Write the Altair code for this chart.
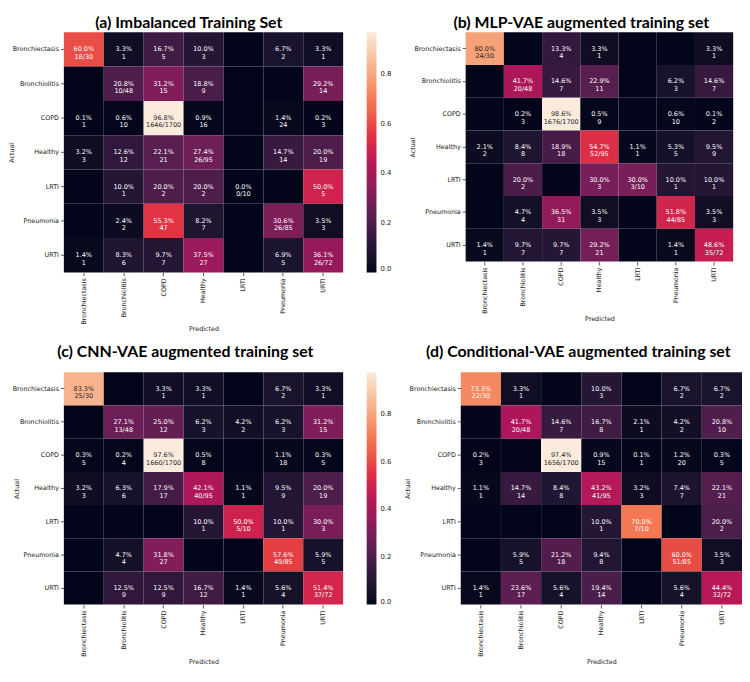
import altair as alt
import pandas as pd

classes = ["Bronchiectasis", "Bronchiolitis", "COPD", "Healthy", "LRTI", "Pneumonia", "URTI"]
totals = [30, 48, 1700, 95, 10, 85, 72]

counts_a = [
    [18, 1, 5, 3, 0, 2, 1],
    [0, 10, 15, 9, 0, 0, 14],
    [1, 10, 1646, 16, 0, 24, 3],
    [3, 12, 21, 26, 0, 14, 19],
    [0, 1, 2, 2, 0, 0, 5],
    [0, 2, 47, 7, 0, 26, 3],
    [1, 6, 7, 27, 0, 5, 26],
]
counts_b = [
    [24, 0, 4, 1, 0, 0, 1],
    [0, 20, 7, 11, 0, 3, 7],
    [0, 3, 1676, 9, 0, 10, 2],
    [2, 8, 18, 52, 1, 5, 9],
    [0, 2, 0, 3, 3, 1, 1],
    [0, 4, 31, 3, 0, 44, 3],
    [1, 7, 7, 21, 0, 1, 35],
]
counts_c = [
    [25, 0, 1, 1, 0, 2, 1],
    [0, 13, 12, 3, 2, 3, 15],
    [5, 4, 1660, 8, 0, 18, 5],
    [3, 6, 17, 40, 1, 9, 19],
    [0, 0, 0, 1, 5, 1, 3],
    [0, 4, 27, 0, 0, 49, 5],
    [0, 9, 9, 12, 1, 4, 37],
]
counts_d = [
    [22, 1, 0, 3, 0, 2, 2],
    [0, 20, 7, 8, 1, 2, 10],
    [3, 0, 1656, 15, 1, 20, 5],
    [1, 14, 8, 41, 3, 7, 21],
    [0, 0, 0, 1, 7, 0, 2],
    [0, 5, 18, 8, 0, 51, 3],
    [1, 17, 4, 14, 0, 4, 32],
]

titles = [
    "(a) Imbalanced Training Set",
    "(b) MLP-VAE augmented training set",
    "(c) CNN-VAE augmented training set",
    "(d) Conditional-VAE augmented training set",
]
legend_ticks = [0.0, 0.2, 0.4, 0.6, 0.8]

rocket = ["#03051a", "#35193e", "#701f57", "#ad1759",
          "#e13342", "#f37651", "#f6b48f", "#faebdd"]


def hex_rgb(h):
    return [int(h[i:i + 2], 16) / 255 for i in (1, 3, 5)]


def rocket_at(t):
    t = min(max(t, 0.0), 1.0) * (len(rocket) - 1)
    i = min(int(t), len(rocket) - 2)
    f = t - i
    a, b = hex_rgb(rocket[i]), hex_rgb(rocket[i + 1])
    return [a[k] + (b[k] - a[k]) * f for k in range(3)]


def luminance(rgb):
    lin = [c / 12.92 if c <= 0.03928 else ((c + 0.055) / 1.055) ** 2.4 for c in rgb]
    return 0.2126 * lin[0] + 0.7152 * lin[1] + 0.0722 * lin[2]


def make_df(counts):
    rows = []
    for i, act in enumerate(classes):
        for j, pred in enumerate(classes):
            c = counts[i][j]
            frac = c / totals[i]
            if i == j:
                label = f"{frac * 100:.1f}%\n{c}/{totals[i]}"
            elif c > 0:
                label = f"{frac * 100:.1f}%\n{c}"
            else:
                label = ""
            rows.append(dict(actual=act, predicted=pred, frac=frac, label=label))
    df = pd.DataFrame(rows)
    mx = df["frac"].max()
    df["tc"] = ["#262626" if luminance(rocket_at(v / mx)) > 0.408 else "#ffffff"
                for v in df["frac"]]
    return df, mx


def panel(counts, title, w, h, show_legend, dx, toff, ytp):
    df, mx = make_df(counts)
    stops = [mx * k / (len(rocket) - 1) for k in range(len(rocket))]
    legend = None
    if show_legend:
        legend = alt.Legend(
            title=None, orient="right", offset=24, gradientLength=h,
            gradientThickness=10, values=legend_ticks, format=".1f",
            labelFontSize=7, labelFont="DejaVu Sans", labelColor="#222",
            labelOffset=4, padding=0, gradientStrokeWidth=0, direction="vertical",
        )
    base = alt.Chart(df)
    x = alt.X("predicted:N", sort=classes,
              scale=alt.Scale(paddingInner=0, paddingOuter=0),
              axis=alt.Axis(title="Predicted", labelAngle=270, titlePadding=2))
    y = alt.Y("actual:N", sort=classes,
              scale=alt.Scale(paddingInner=0, paddingOuter=0),
              axis=alt.Axis(title="Actual", labelAngle=0, titlePadding=ytp))
    rect = base.mark_rect(strokeWidth=0).encode(
        x=x, y=y,
        color=alt.Color("frac:Q", legend=legend,
                        scale=alt.Scale(domain=stops, range=rocket, zero=False,
                                        nice=False, clamp=True)),
    )
    text = base.mark_text(lineBreak="\n", lineHeight=7.6, fontSize=6.6,
                          font="DejaVu Sans", baseline="middle", align="center").encode(
        x=x, y=y, text="label:N", color=alt.Color("tc:N", scale=None),
    )
    return alt.layer(rect, text).properties(
        width=w, height=h,
        title=alt.TitleParams(title, font="Lato", fontSize=16.2, fontWeight="bold",
                              color="black", anchor="middle", frame="group",
                              dx=dx, offset=toff),
    ).resolve_scale(color="independent")


pa = panel(counts_a, titles[0], 285, 245, True, -15, 1, -2.5)
pb = panel(counts_b, titles[1], 273, 234, False, -18.5, 1, -2)
pc = panel(counts_c, titles[2], 285, 237, True, -18.5, 12, -7.5)
pd_ = panel(counts_d, titles[3], 287, 237, False, -23.5, 12, -1)

row1 = alt.hconcat(pa, pb, spacing=18).resolve_scale(color="independent")
row2 = alt.hconcat(pc, pd_, spacing=12).resolve_scale(color="independent")

chart = alt.vconcat(row1, row2, spacing=11).resolve_scale(color="independent").properties(
    padding=0, background="white"
).configure_view(stroke=None).configure_axis(
    domain=False, grid=False, tickColor="#333", tickSize=3.5, tickWidth=0.8,
    labelFont="DejaVu Sans", labelFontSize=6.5, labelColor="#222", labelPadding=2,
    titleFont="DejaVu Sans", titleFontSize=6.5, titleFontWeight="normal", titleColor="#222",
)

chart.save("out.html", embed_options={"renderer": "svg", "actions": False})
